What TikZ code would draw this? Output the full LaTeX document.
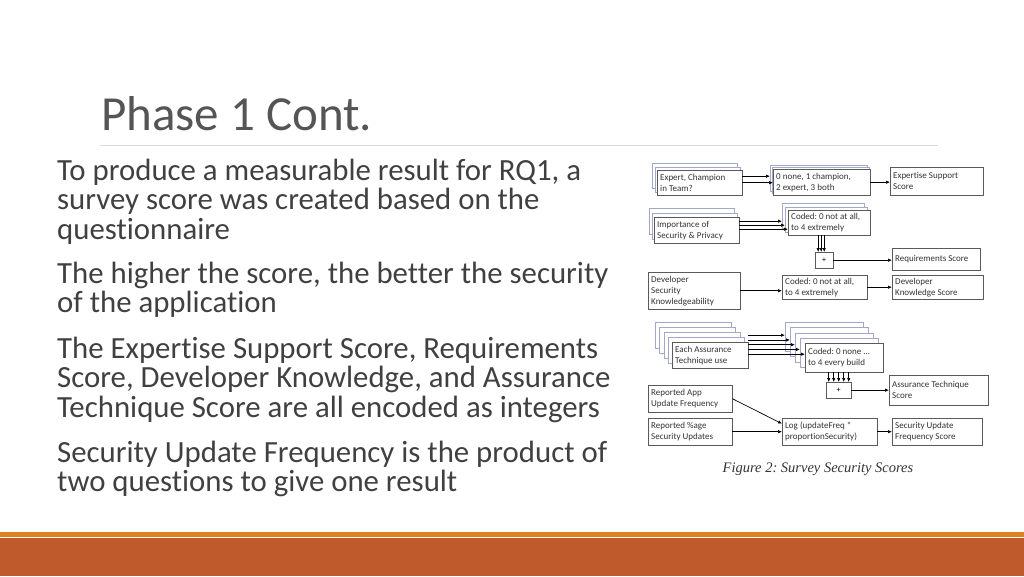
\documentclass[tikz,border=0pt]{standalone}
\usepackage{fontspec}
\setmainfont{Carlito}[Ligatures=NoCommon]
\newfontfamily\capfont{Liberation Serif}
\usetikzlibrary{positioning,calc,arrows.meta,shadows}
\frenchspacing

\definecolor{bodygray}{HTML}{404040}
\definecolor{titlegray}{HTML}{555555}
\definecolor{rulegray}{HTML}{D9D9D9}
\definecolor{barorange}{HTML}{E2801E}
\definecolor{barrust}{HTML}{BE5A2C}
\definecolor{edgegray}{HTML}{5A5A5A}
\definecolor{layeredge}{HTML}{A4A8C8}

\tikzset{
  box/.style={draw=edgegray, fill=white, text=black!80, anchor=north west, align=flush left,
    inner xsep=3pt, inner ysep=1pt, font=\fontsize{9}{11}\selectfont},
  plus/.style={draw=edgegray, fill=white, anchor=north west, inner sep=0pt,
    font=\fontsize{8}{9}\selectfont},
  layer/.style 2 args={copy shadow={shadow xshift=#1, shadow yshift=#2, draw=layeredge}},
  arr/.style={-{Latex[length=4pt,width=3.4pt]}, line width=0.7pt},
  para/.style={anchor=base west, text width=600pt, align=flush left, inner sep=0pt, text=bodygray,
    font=\fontsize{30.8}{29.5}\selectfont}
}

\begin{document}
\begin{tikzpicture}[x=1pt, y=-1pt]
  \useasboundingbox (0,0) rectangle (1024,576);

  % footer bars
  \fill[barorange] (0,532) rectangle (1024,537);
  \fill[barrust] (0,538) rectangle (1024,576);

  % title
  \node[anchor=base west, inner sep=0pt, text=titlegray, font=\fontsize{49}{49}\selectfont] (title) at (101,130) {Phase 1 Cont.};
  \draw[rulegray, line width=1pt] (100,145) coordinate (rulel) -- (938,145) coordinate (ruler);

  % bullet text
  \node[para] (p1) at (57,180) {To produce a measurable result for RQ1, a\\survey score was created based on the\\questionnaire};
  \node[para] (p2) at (57,283) {The higher the score, the better the security\\of the application};
  \node[para] (p3) at (57,358) {The Expertise Support Score, Requirements\\Score, Developer Knowledge, and Assurance\\Technique Score are all encoded as integers};
  \node[para] (p4) at (57,462) {Security Update Frequency is the product of\\two questions to give one result};

  % figure: inputs
  \node[box, text width=79pt, minimum height=25pt, layer={-5pt}{7pt}, layer={-2.5pt}{3.5pt}] (expert) at (657,170) {Expert, Champion\\in Team?};
  \node[box, text width=79pt, minimum height=26pt, layer={-5pt}{9pt}, layer={-2.5pt}{4.5pt}] (imp) at (654,217) {Importance of\\Security \& Privacy};
  \node[box, text width=86pt, minimum height=37pt] (dev) at (648,272) {Developer\\Security\\Knowledgeability};
  \node[box, text width=70pt, minimum height=26pt, layer={-17pt}{20pt}, layer={-12.75pt}{15pt}, layer={-8.5pt}{10pt}, layer={-4.25pt}{5pt}] (each) at (672,342) {Each Assurance\\Technique use};
  \node[box, text width=78pt, minimum height=27pt] (rapp) at (648,385) {Reported App\\Update Frequency};
  \node[box, text width=78pt, minimum height=27pt] (rpct) at (648,418) {Reported \%age\\Security Updates};

  % figure: coding
  \node[box, text width=91pt, minimum height=26pt, layer={-3pt}{4pt}, layer={-1.5pt}{2pt}] (champ) at (773,169) {0 none, 1 champion,\\2 expert, 3 both};
  \node[box, text width=76pt, minimum height=25pt, layer={-6pt}{7pt}, layer={-3pt}{3.5pt}] (codedA) at (788,210) {Coded: 0 not at all,\\to 4 extremely};
  \node[plus, minimum width=18pt, minimum height=16pt] (plusA) at (815,252) {+};
  \node[box, text width=79pt, minimum height=24pt] (codedB) at (782,275) {Coded: 0 not at all,\\to 4 extremely};
  \node[box, text width=72pt, minimum height=29pt, layer={-20pt}{21pt}, layer={-15pt}{15.75pt}, layer={-10pt}{10.5pt}, layer={-5pt}{5.25pt}] (codedC) at (805,343) {Coded: 0 none ...\\to 4 every build};
  \node[plus, minimum width=25pt, minimum height=16pt] (plusB) at (826,382) {+};
  \node[box, text width=89pt, minimum height=27pt] (log) at (782,418) {Log (updateFreq *\\proportionSecurity)};

  % figure: scores
  \node[box, text width=87pt, minimum height=28pt] (ess) at (890,167) {Expertise Support\\Score};
  \node[box, text width=82pt, minimum height=22pt] (req) at (892,248) {Requirements Score};
  \node[box, text width=85pt, minimum height=24pt] (dks) at (892,275) {Developer\\Knowledge Score};
  \node[box, text width=93pt, minimum height=30pt] (ats) at (889,375) {Assurance Technique\\Score};
  \node[box, text width=84pt, minimum height=27pt] (sufs) at (892,418) {Security Update\\Frequency Score};

  % connectors
  \draw[arr] ($(expert.east)+(0,-6.5)$) -- ($(expert.east -| champ.west)+(-3,-6.5)$);
  \draw[arr] (expert.east) -- (expert.east -| champ.west);
  \draw[arr] (champ.east) -- (champ.east -| ess.west);
  \foreach \k in {0,1,2}
    \draw[arr] ($(imp.east)+(0,-9+4*\k)$) -- ($(imp.east -| codedA.west)+(-6+3*\k,-9+4*\k)$);
  \foreach \k in {0,1,2}
    \draw[arr] ($(codedA.south -| plusA.north)+(-6+3*\k,0)$) -- ($(plusA.north)+(-6+3*\k,0)$);
  \draw[arr] (plusA.east) -- (plusA.east -| req.west);
  \draw[arr] (dev.east) -- (dev.east -| codedB.west);
  \draw[arr] (codedB.east) -- (codedB.east -| dks.west);
  \foreach \k in {0,...,4}
    \draw[arr] ($(each.east)+(0,-20+4.75*\k)$) -- ($(each.east -| codedC.west)+(-20+5*\k,-20+4.75*\k)$);
  \foreach \k in {0,...,4}
    \draw[arr] ($(codedC.south -| plusB.north)+(-10+5*\k,0)$) -- ($(plusB.north)+(-10+5*\k,0)$);
  \draw[arr] (plusB.east) -- (plusB.east -| ats.west);
  \draw[arr] (rapp.east) -- ($(log.west)+(0,-8)$);
  \draw[arr] (rpct.east) -- (rpct.east -| log.west);
  \draw[arr] (log.east) -- (log.east -| sufs.west);

  % caption
  \node[text=black!80, font=\capfont\itshape\fontsize{14.5}{16}\selectfont] (caption) at (818,469) {Figure 2: Survey Security Scores};
\end{tikzpicture}
\end{document}
